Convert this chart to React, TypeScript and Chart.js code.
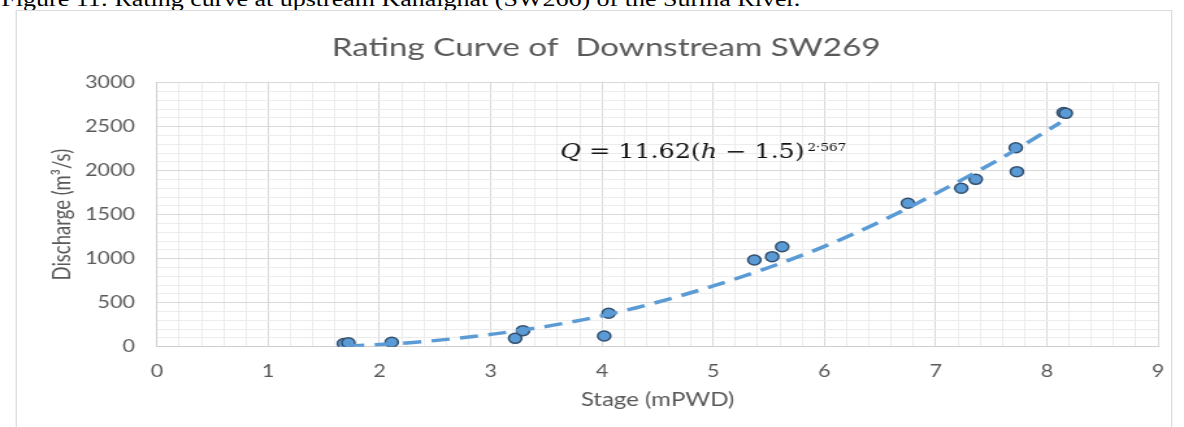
import { useEffect, useRef } from "react";
import { Chart, registerables } from "chart.js";

Chart.register(...registerables);

// Observed stage / discharge pairs
const stage = [1.68, 1.72, 2.11, 3.22, 3.29, 4.02, 4.06, 5.37, 5.53, 5.62, 6.75, 7.23, 7.36, 7.72, 7.73, 8.15, 8.17];
const discharge = [35, 45, 50, 95, 182, 122, 380, 985, 1023, 1136, 1630, 1800, 1902, 2261, 1989, 2660, 2652];

// Fitted rating curve, sampled along the dashed line
const trendStage = [1.7, 2.3, 3.0, 3.7, 4.3, 5.0, 5.5, 6.0, 6.5, 7.0, 7.6, 8.12];
const trendDischarge = [5, 48, 140, 275, 440, 690, 900, 1140, 1420, 1740, 2150, 2545];

// Labelled (major) ticks
const xMajorTicks = [0, 1, 2, 3, 4, 5, 6, 7, 8, 9];
const yMajorTicks = [0, 500, 1000, 1500, 2000, 2500, 3000];

const CAPTION = "Figure 11: Rating curve at upstream Kanaighat (SW266) of the Surma River.";
const TITLE = "Rating Curve of  Downstream SW269";

const W = 911;
const H = 427;
const SCALE_X = 1184 / W;

const near = (v: number, list: number[]) => list.some((t) => Math.abs(t - v) < 1e-6);

const equationPlugin = {
  id: "equation",
  afterDatasetsDraw(chart: any) {
    const { ctx, scales } = chart;
    let px = scales.x.getPixelForValue(3.625);
    const base = scales.y.getPixelForValue(2140);
    ctx.save();
    ctx.fillStyle = "#111111";
    ctx.textBaseline = "alphabetic";
    ctx.textAlign = "left";
    const runs = [
      { t: "Q", f: 'italic 19.5px "DejaVu Serif"' },
      { t: " = 11.62(", f: '19.5px "DejaVu Serif"' },
      { t: "h", f: 'italic 19.5px "DejaVu Serif"' },
      { t: " \u2212 1.5)", f: '19.5px "DejaVu Serif"' },
    ];
    for (const r of runs) {
      ctx.font = r.f;
      ctx.fillText(r.t, px, base);
      px += ctx.measureText(r.t).width;
    }
    ctx.font = '10.5px "DejaVu Serif"';
    ctx.fillText("2\u00b7567", px + 2, base - 7.5);
    ctx.restore();
  },
};

export default function App() {
  const canvasRef = useRef<HTMLCanvasElement | null>(null);

  useEffect(() => {
    const canvas = canvasRef.current;
    if (!canvas) return;
    const tickFont = { family: "Lato", size: 16.5, lineHeight: 1.2 };
    const axisTitleFont = { family: "Lato", size: 18.5, lineHeight: 1.2 };
    const chart = new Chart(canvas, {
      type: "scatter",
      data: {
        datasets: [
          {
            type: "line",
            label: "Rating curve",
            data: trendStage.map((h, i) => ({ x: h, y: trendDischarge[i] })),
            borderColor: "#5b9bd5",
            borderWidth: 3.5,
            borderDash: [14, 8],
            pointRadius: 0,
            fill: false,
            cubicInterpolationMode: "monotone",
            order: 0,
          } as any,
          {
            label: "Observed",
            data: stage.map((h, i) => ({ x: h, y: discharge[i] })),
            backgroundColor: "#5b9bd5",
            borderColor: "#34506e",
            borderWidth: 1.5,
            pointRadius: 5,
            pointHoverRadius: 5,
            order: 1,
          },
        ],
      },
      options: {
        responsive: false,
        animation: false,
        devicePixelRatio: 1,
        events: [],
        layout: { padding: { left: 36.6, right: 14.8, top: 0, bottom: 0 } },
        plugins: {
          legend: { display: false },
          tooltip: { enabled: false },
          title: {
            display: true,
            text: TITLE,
            color: "#595959",
            font: { family: "Lato", size: 25.5, weight: "normal", lineHeight: 1.2 },
            padding: { top: 32.4, bottom: 19.7 },
          },
        },
        scales: {
          x: {
            type: "linear",
            min: 0,
            max: 9,
            afterFit(s: any) {
              s.height = 80.3;
            },
            ticks: {
              stepSize: 0.2,
              maxTicksLimit: 200,
              autoSkip: false,
              maxRotation: 0,
              minRotation: 0,
              padding: 15.1,
              color: "#595959",
              font: tickFont,
              callback: (v: any) => (near(Number(v), xMajorTicks) ? String(Math.round(Number(v))) : ""),
            },
            grid: {
              drawTicks: false,
              lineWidth: 1,
              color: (c: any) => (c.tick && near(c.tick.value, xMajorTicks) ? "#d9d9d9" : "#ececec"),
            },
            border: { color: "#cfcfcf" },
            title: {
              display: true,
              text: "Stage (mPWD)",
              color: "#595959",
              font: axisTitleFont,
              padding: { top: 0, bottom: 15.4 },
            },
          },
          y: {
            type: "linear",
            min: 0,
            max: 3000,
            afterFit(s: any) {
              s.width = 84.2;
            },
            ticks: {
              stepSize: 100,
              maxTicksLimit: 200,
              autoSkip: false,
              padding: 17,
              color: "#595959",
              font: tickFont,
              callback: (v: any) => (near(Number(v), yMajorTicks) ? String(Math.round(Number(v))) : ""),
            },
            grid: {
              drawTicks: false,
              lineWidth: 1,
              color: (c: any) => (c.tick && near(c.tick.value, yMajorTicks) ? "#d9d9d9" : "#ececec"),
            },
            border: { color: "#cfcfcf" },
            title: {
              display: true,
              text: "Discharge (m\u00b3/s)",
              color: "#595959",
              font: axisTitleFont,
              padding: { top: 0, bottom: 0 },
            },
          },
        },
      } as any,
      plugins: [equationPlugin],
    });
    return () => chart.destroy();
  }, []);

  return (
    <div
      style={{
        position: "absolute",
        left: 0,
        top: 0,
        width: W,
        height: H,
        overflow: "hidden",
        background: "#ffffff",
        transform: `scaleX(${SCALE_X})`,
        transformOrigin: "0 0",
      }}
    >
      <div
        style={{
          position: "absolute",
          left: 1,
          top: -10.75,
          fontFamily: '"Liberation Serif", "Times New Roman", serif',
          fontSize: 20,
          lineHeight: "20px",
          whiteSpace: "nowrap",
          color: "#000",
        }}
      >
        {CAPTION}
      </div>
      <div
        style={{
          position: "absolute",
          left: 11.5,
          top: 9.5,
          width: 890,
          height: 480,
          border: "1px solid #dcdcdc",
          boxSizing: "border-box",
        }}
      />
      <canvas
        ref={canvasRef}
        width={W}
        height={H}
        style={{ position: "absolute", left: 0, top: 0, width: W, height: H }}
      />
    </div>
  );
}
